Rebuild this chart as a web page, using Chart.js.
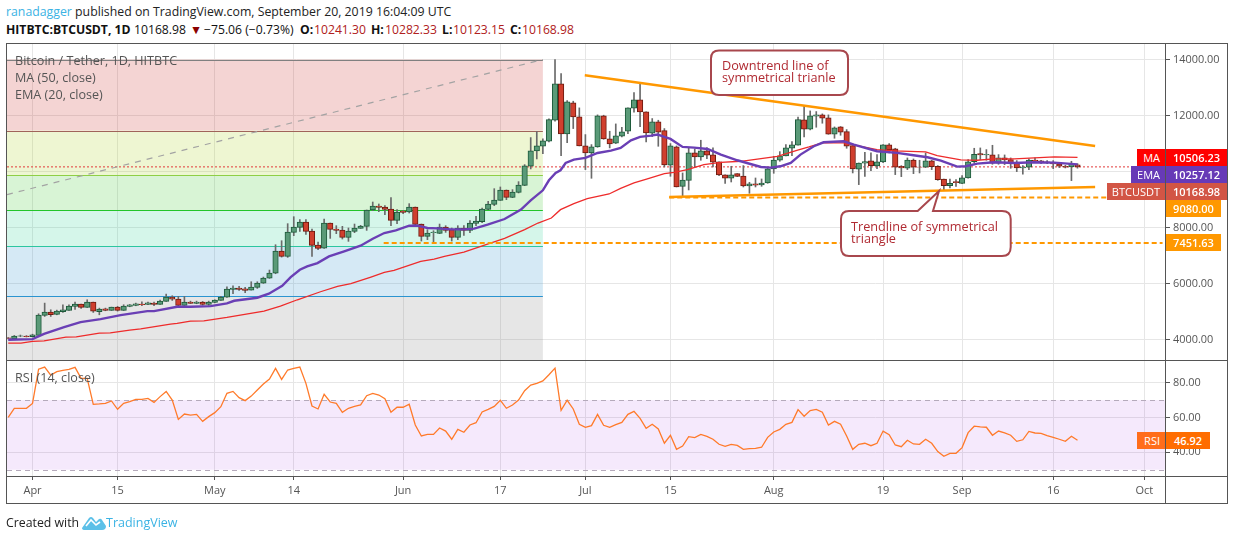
<!DOCTYPE html>
<html>
<head>
<meta charset="utf-8">
<title>BTCUSDT</title>
<script src="https://cdn.jsdelivr.net/npm/chart.js@4/dist/chart.umd.min.js"></script>
<style>
    html, body { margin: 0; padding: 0; background: #fff; }
    body { width: 1234px; height: 540px; position: relative; overflow: hidden; font-family: "Open Sans", sans-serif; }
    canvas { position: absolute; }
    .abs { position: absolute; white-space: nowrap; }
    .line { position: absolute; background: #555; }
    .legend { color: #555; font-size: 12.6px; line-height: 17px; left: 15px; }
    .hdr { position: absolute; top: 21px; font-size: 12.2px; line-height: 18px; color: #111; white-space: nowrap; }
    .hdr.v { color: #b02020; }
    .hdr.b { font-weight: 700; }
    .tag { position: absolute; color: #fff; font-size: 11px; font-weight: 600; line-height: 17px; height: 17px; text-align: center; }
    .tag.side { text-align: right; padding-right: 5px; font-weight: 400; box-sizing: border-box; }
    #overlay { position: absolute; left: 0; top: 0; }
    #overlay text { font-family: "Open Sans", sans-serif; font-size: 12.7px; fill: #b02a32; }
</style>
</head>
<body>

<div class="abs" style="left:6px;top:3px;font-size:12.3px;line-height:18px;color:#222"><span style="color:#3bb3e4">ranadagger</span> published on TradingView.com, September 20, 2019 16:04:09 UTC</div>
<div class="hdr b" style="left:6px;font-size:12.2px">HITBTC:BTCUSDT, 1D</div>
<div class="hdr" style="left:134px">10168.98</div>
<div class="hdr" style="left:190px;color:#8b0000">▼</div>
<div class="hdr" style="left:204px">−75.06 (−0.73%)</div>
<div class="hdr b" style="left:300px">O:</div>
<div class="hdr v" style="left:314px">10241.30</div>
<div class="hdr b" style="left:371px">H:</div>
<div class="hdr v" style="left:385px">10282.33</div>
<div class="hdr b" style="left:442px">L:</div>
<div class="hdr v" style="left:453px">10123.15</div>
<div class="hdr b" style="left:510px">C:</div>
<div class="hdr v" style="left:522px">10168.98</div>

<canvas id="chart-price" width="1220" height="316" style="left:7px;top:44px;width:1220px;height:316px"></canvas>
<canvas id="chart-rsi" width="1220" height="142" style="left:7px;top:361px;width:1220px;height:142px"></canvas>

<!-- pane frame -->
<div class="line" style="left:6px;top:43px;width:1222px;height:1px"></div>
<div class="line" style="left:6px;top:360px;width:1222px;height:1px"></div>
<div class="line" style="left:6px;top:476px;width:1222px;height:1px"></div>
<div class="line" style="left:6px;top:503px;width:1222px;height:1px"></div>
<div class="line" style="left:6px;top:43px;width:1px;height:461px"></div>
<div class="line" style="left:1165px;top:43px;width:1px;height:461px"></div>
<div class="line" style="left:1227px;top:43px;width:1px;height:461px"></div>

<div class="abs legend" style="top:52px">Bitcoin / Tether, 1D, HITBTC</div>
<div class="abs legend" style="top:69px">MA (50, close)</div>
<div class="abs legend" style="top:86px">EMA (20, close)</div>
<div class="abs legend" style="top:369px">RSI (14, close)</div>

<div class="tag side" style="left:1137px;top:149px;width:28px;background:#ff0000">MA</div>
<div class="tag" style="left:1166px;top:149px;width:61px;background:#ff0000">10506.23</div>
<div class="tag side" style="left:1131px;top:166px;width:34px;background:#673ab7">EMA</div>
<div class="tag" style="left:1166px;top:166px;width:61px;background:#673ab7">10257.12</div>
<div class="tag side" style="left:1107px;top:183px;width:58px;background:#d25545">BTCUSDT</div>
<div class="tag" style="left:1166px;top:183px;width:61px;background:#d25545">10168.98</div>
<div class="tag" style="left:1166px;top:200px;width:55px;background:#ff9800">9080.00</div>
<div class="tag" style="left:1166px;top:234px;width:55px;background:#ff9800">7451.63</div>
<div class="tag side" style="left:1137px;top:432px;width:28px;background:#ff6d1a">RSI</div>
<div class="tag" style="left:1166px;top:432px;width:44px;background:#ff6d00">46.92</div>

<svg id="overlay" width="1234" height="540">
    <path d="M719 50.5 H840 Q848 50.5 848 58.5 V87 Q848 95 840 95 H719 Q711 95 711 87 V58.5 Q711 50.5 719 50.5 Z" fill="#fff" stroke="#a8474d" stroke-width="2"/>
    <text x="722" y="69.5">Downtrend line of</text>
    <text x="722" y="82">symmetrical trianle</text>
    <path d="M849 211 H917.7 L939 191 L933 211 H1002 Q1010.7 211 1010.7 219 V247 Q1010.7 256 1002 256 H849 Q841 256 841 247 V219 Q841 211 849 211 Z" fill="#fff" stroke="#a8474d" stroke-width="2"/>
    <text x="851" y="231">Trendline of symmetrical</text>
    <text x="851" y="243">triangle</text>
</svg>

<div class="abs" style="left:6px;top:513px;font-size:12.3px;line-height:20px;color:#222">Created with</div>
<svg class="abs" style="left:82px;top:515px" width="24" height="15" viewBox="0 0 24 15">
    <path d="M0 13 L7 3 Q9 1 11 3 L14 7 L17 4 Q19 3 20 5 L24 11 Q24 15 20 15 H3 Q0 15 0 13 Z" fill="#5cc0e8"/>
    <path d="M4 11 L9 5 L14 10 L18 7" fill="none" stroke="#fff" stroke-width="1.6"/>
</svg>
<div class="abs" style="left:106px;top:513px;font-size:12.5px;line-height:20px;color:#3bb3e4">TradingView</div>

<script>
// all series are indexed by day, day 0 = Apr 1 2019
const firstDay = -4;

const tickDays = [0, 14, 30, 43, 61, 77, 91, 105, 122, 140, 153, 168, 183];
const tickLabels = ["Apr", "15", "May", "14", "Jun", "17", "Jul", "15", "Aug", "19", "Sep", "16", "Oct"];
const priceTicks = [4000, 6000, 8000, 10000, 12000, 14000];
const rsiTicks = [40, 60, 80];

const opens = [
    4070, 4035, 4130, 4135, 4115, 4155, 4870, 4988, 4904, 5000,
    5047, 5190, 5273, 5154, 5345, 5000, 5107, 5047, 5166, 5047,
    5190, 5226, 5273, 5261, 5309, 5261, 5368, 5523, 5452, 5226,
    5345, 5297, 5345, 5261, 5333, 5404, 5523, 5797, 5845, 5821,
    5773, 5868, 6023, 6202, 6380, 7166, 6976, 7833, 8011, 8202,
    7880, 7380, 7273, 8166, 7952, 7916, 7654, 7869, 7976, 8047,
    8630, 8773, 8738, 8666, 8262, 8595, 8559, 8738, 8130, 7690,
    7821, 7797, 8023, 7928, 7654, 7988, 7904, 8154, 8214, 8654,
    8833, 8976, 9345, 9083, 9261, 9511, 10190, 10738, 10904, 11083,
    11833, 13131, 11345, 12452, 11952, 10916, 10666, 10881, 11988, 11166,
    11012, 11262, 11440, 12262, 12559, 12131, 11369, 11773, 11464, 10226,
    10881, 9476, 9690, 10666, 10523, 10738, 10595, 10345, 9881, 9762,
    9928, 9845, 9488, 9560, 9524, 9595, 10095, 10404, 10559, 10833,
    10940, 11845, 11512, 11976, 12024, 11916, 11333, 11595, 11428, 10928,
    10083, 10297, 10381, 10202, 10345, 10952, 10809, 10190, 10119, 10416,
    10166, 10155, 10381, 10190, 9738, 9500, 9643, 9583, 9774, 10357,
    10643, 10595, 10595, 10297, 10488, 10428, 10297, 10131, 10155, 10416,
    10381, 10345, 10309, 10274, 10190, 10166, 10241.30
];
const highs = [
    4080, 4155, 4170, 4150, 4200, 4928, 5309, 5071, 5059, 5250,
    5250, 5345, 5273, 5428, 5345, 5130, 5130, 5166, 5190, 5250,
    5260, 5309, 5357, 5345, 5345, 5416, 5630, 5571, 5547, 5547,
    5380, 5380, 5368, 5380, 5428, 5547, 5892, 5928, 5904, 5868,
    6071, 6071, 6238, 6488, 7392, 7535, 8143, 8392, 8285, 8285,
    7952, 7488, 8309, 8166, 8071, 8047, 7988, 8130, 8083, 8630,
    8916, 8845, 8785, 9071, 8642, 8619, 8857, 8738, 8130, 7928,
    7892, 8130, 8071, 7988, 8071, 8071, 8250, 8404, 8702, 8940,
    9392, 9452, 9345, 9357, 9642, 10250, 11214, 11428, 11166, 11880,
    14000, 13500, 12535, 12512, 12274, 11321, 10964, 12024, 12012, 11440,
    11702, 11583, 12274, 12821, 13166, 12131, 11893, 11833, 11536, 11000,
    10916, 9952, 10833, 10809, 11119, 10857, 10845, 10345, 9881, 10190,
    9928, 10214, 9619, 9773, 9738, 10131, 10547, 10714, 10964, 11071,
    11950, 12357, 12166, 12143, 12060, 12024, 11595, 11607, 11500, 10928,
    10309, 10690, 10666, 10607, 10964, 11000, 10833, 10214, 10488, 10452,
    10405, 10666, 10405, 10214, 9738, 9738, 9714, 9857, 10428, 10833,
    10845, 10786, 10940, 10607, 10595, 10488, 10393, 10214, 10452, 10488,
    10405, 10393, 10393, 10310, 10226, 10369, 10282.33
];
const lows = [
    4040, 4025, 4110, 4100, 4100, 4150, 4833, 4833, 4892, 4976,
    5047, 5083, 5118, 5154, 4976, 4892, 5035, 5047, 5023, 5047,
    5178, 5214, 5214, 5250, 5214, 5261, 5368, 5404, 5214, 5226,
    5297, 5285, 5238, 5226, 5321, 5404, 5511, 5642, 5761, 5678,
    5773, 5833, 6011, 6190, 6357, 6950, 6940, 7714, 7868, 7761,
    6976, 7214, 7261, 7618, 7785, 7595, 7512, 7821, 7976, 7904,
    8607, 8571, 8464, 8071, 8143, 8500, 8523, 8107, 7523, 7571,
    7500, 7785, 7833, 7523, 7571, 7726, 7821, 8071, 8178, 8643,
    8785, 8976, 9000, 9071, 9238, 9500, 10095, 10452, 10643, 11060,
    11798, 10571, 11035, 11536, 10916, 10071, 9762, 10869, 11154, 10845,
    11000, 11238, 11357, 12119, 11607, 11059, 11250, 10904, 10166, 9833,
    9452, 9119, 9345, 10166, 10405, 10464, 10166, 9857, 9583, 9630,
    9821, 9452, 9226, 9452, 9476, 9583, 9940, 10369, 10559, 10571,
    10940, 11238, 11488, 11583, 11726, 11333, 11190, 11297, 10833, 9952,
    9536, 9833, 10035, 10107, 10321, 10667, 9893, 9821, 10071, 9928,
    9952, 10143, 10071, 9690, 9357, 9416, 9476, 9571, 9762, 10309,
    10429, 10405, 10262, 10262, 10250, 10119, 10000, 9905, 10071, 10357,
    10285, 10285, 10107, 10143, 10131, 9678, 10123.15
];
const closes = [
    4050, 4130, 4140, 4115, 4175, 4880, 4988, 4892, 5023, 5071,
    5202, 5273, 5154, 5345, 5023, 5095, 5047, 5166, 5047, 5202,
    5250, 5285, 5250, 5321, 5261, 5380, 5523, 5452, 5226, 5345,
    5297, 5345, 5261, 5345, 5416, 5523, 5809, 5845, 5797, 5761,
    5880, 6023, 6202, 6380, 7166, 6976, 7845, 8023, 8202, 7868,
    7368, 7261, 8166, 7940, 7904, 7654, 7880, 7988, 8059, 8630,
    8773, 8726, 8654, 8262, 8559, 8547, 8738, 8119, 7690, 7809,
    7845, 8023, 7904, 7654, 7988, 7904, 8166, 8238, 8666, 8845,
    8988, 9345, 9083, 9273, 9523, 10202, 10738, 10916, 11095, 11857,
    13131, 11345, 12488, 11952, 10916, 10666, 10881, 11988, 11166, 10988,
    11274, 11416, 12274, 12559, 12131, 11381, 11773, 11405, 10238, 10916,
    9452, 9702, 10666, 10523, 10738, 10583, 10333, 9881, 9762, 9881,
    9833, 9488, 9560, 9512, 9595, 10095, 10416, 10559, 10845, 10952,
    11857, 11512, 11988, 12024, 11905, 11333, 11559, 11405, 10905, 10095,
    10309, 10357, 10214, 10345, 10952, 10774, 10155, 10131, 10416, 10155,
    10155, 10381, 10178, 9714, 9500, 9583, 9607, 9774, 10345, 10619,
    10595, 10619, 10297, 10488, 10416, 10297, 10131, 10166, 10416, 10381,
    10333, 10309, 10274, 10190, 10155, 10274, 10168.98
];

const rsiValues = [
    60.1, 65.3, 65.3, 65.3, 68.1, 87.8, 89, 84.4, 86.3, 87.1,
    87.7, 88.8, 82.5, 82.5, 67.6, 67.8, 68.1, 69.5, 64.7, 68.1,
    69.1, 70.4, 70.4, 71, 68.7, 72, 75, 70, 58.9, 62,
    61.4, 61.8, 57.8, 60.5, 62.8, 66.2, 73.9, 75, 71.4, 69.7,
    72.3, 75.8, 79.2, 82.1, 88.2, 81.9, 87.3, 88.2, 89, 79.6,
    66.6, 64.9, 73.3, 68.9, 68.1, 63, 65.3, 66.4, 67.2, 72.5,
    73.9, 72.9, 70.8, 63, 65.9, 65.9, 67.6, 55.7, 49.4, 50.3,
    50.3, 54, 52.2, 47.5, 53.2, 51.5, 55.7, 57, 63.2, 64.7,
    66.4, 69.9, 65.3, 67.2, 70, 75.4, 78.6, 79.6, 81, 84.6,
    88.4, 64.1, 69.9, 64.9, 56.1, 54.3, 55.3, 61.8, 55.5, 54.3,
    55.9, 57.2, 61.8, 63.5, 59.5, 53.8, 56.1, 53.4, 45.2, 49.8,
    41.7, 43.6, 49, 48.4, 50.3, 49.2, 47.5, 44.6, 43.4, 44.6,
    44, 41.7, 42.1, 42.3, 42.9, 48.6, 51.7, 53.2, 56.1, 57.2,
    64.5, 60.7, 64, 64.7, 63, 55.7, 57.8, 56.1, 49.4, 41.7,
    44.6, 45.2, 43.8, 45.2, 52.2, 50.1, 44.2, 43.2, 46.9, 44.8,
    44.6, 47.5, 45.2, 40.4, 37.7, 39.4, 39.4, 42.7, 51.3, 55,
    54.6, 54.4, 49.8, 52.2, 51.1, 49.8, 46.3, 47.2, 52, 51.1,
    50.9, 49.6, 48.6, 47.5, 46.3, 49.2, 46.92
];

// moving averages read at their turning points
const emaDays = [-4, 0, 1.9, 5.2, 7.9, 11.2, 14.5, 18.9, 20, 23.8, 26, 29.3, 32, 33.2, 37, 38.9, 41.1, 42.5, 44, 45.2, 46.9, 48.8, 51.3, 54, 56, 57.9, 59.8, 62, 63.4, 65, 66.7, 68.9, 71, 72.7, 74.9, 77.7, 80.4, 82, 84, 85, 86.1, 86.9, 87.75, 89.1, 91, 93, 95.2, 96.8, 98.5, 100, 101.8, 102.9, 104, 105, 107, 108.9, 111.1, 113.3, 116, 119.9, 121.5, 123.1, 124.8, 126.4, 128.6, 130.2, 133.5, 135.2, 139, 142.3, 145, 147.3, 149.5, 152.2, 153.6, 155.5, 158.3, 161.6, 164.9, 168.2, 172];
const emaValues = [4000, 4024, 4214, 4452, 4631, 4738, 4881, 5024, 5024, 5178, 5178, 5202, 5297, 5392, 5500, 5643, 5928, 6238, 6500, 6619, 6738, 6976, 7155, 7357, 7607, 7809, 7905, 8071, 8071, 7988, 7976, 7940, 7940, 7964, 8107, 8309, 8643, 8976, 9333, 9690, 9952, 10047, 10309, 10428, 10488, 10666, 10750, 10845, 11119, 11238, 11286, 11321, 11238, 11167, 10881, 10857, 10809, 10607, 10405, 10166, 10143, 10190, 10310, 10607, 10905, 11047, 11083, 10964, 10726, 10667, 10583, 10512, 10393, 10178, 10190, 10286, 10333, 10310, 10333, 10321, 10257.12];
const maDays = [-4, -1.9, 0, 1.9, 5.5, 7.2, 11, 12.8, 16, 17.8, 22.7, 23.8, 26, 28.2, 32, 38.1, 40.8, 43.6, 47.4, 50.2, 52.4, 55.7, 57.9, 59.5, 63.9, 66.1, 67.8, 71, 74.4, 77.7, 81, 83.2, 85.4, 86.9, 89.1, 91.3, 94.9, 96.8, 99, 101.2, 104, 105.6, 107.8, 110.5, 113.3, 116.6, 119.9, 122.6, 125.8, 127.8, 130, 133.5, 134.9, 139, 141.8, 147, 148.9, 152.8, 155.5, 158.3, 161.6, 164.9, 168.2, 172];
const maValues = [3881, 3881, 3940, 3964, 4095, 4107, 4238, 4250, 4345, 4393, 4560, 4583, 4667, 4678, 4797, 5024, 5202, 5428, 5714, 5905, 6000, 6238, 6405, 6476, 6797, 6880, 6976, 7131, 7381, 7619, 7928, 8166, 8345, 8643, 8857, 9035, 9202, 9405, 9595, 9738, 9928, 9976, 10071, 10250, 10333, 10369, 10464, 10547, 10762, 10881, 11024, 11024, 10964, 10786, 10738, 10702, 10571, 10416, 10405, 10452, 10452, 10488, 10524, 10506.23];

// fib retracement: price levels and the band below each one
const fibLevels = [14000, 11464, 9882, 8618, 7346, 5561];
const fibLineColors = ["#808080", "#a0645a", "#8fcf45", "#22c52a", "#2cc6a0", "#2a94d0"];
const fibBandColors = ["rgba(200,40,35,0.2)", "rgba(170,210,30,0.2)", "rgba(60,200,45,0.2)", "rgba(45,210,150,0.2)", "rgba(45,145,205,0.2)", "rgba(128,128,128,0.2)"];
const fibEndDay = 84;
const fibDiagonalDays = [-4.2, 84];
const fibDiagonalPrices = [9179, 14000];

const downtrendDays = [90.9, 174.9];
const downtrendPrices = [13436, 10914];
const uptrendDays = [104.8, 174.9];
const uptrendPrices = [9095, 9451];
const support9080Days = [104.8, 186.4];
const support9080Prices = [9080, 9080];
const support7451Days = [57.8, 186];
const support7451Prices = [7451.63, 7451.63];
const lastPriceDays = [-4.2, 186.4];
const lastPrices = [10168.98, 10168.98];

const rsiBandTop = 70;
const rsiBandBottom = 30;

const GREEN = "#5a9a78", GREEN_DARK = "#1d5a3a";
const RED = "#d03f2e", RED_DARK = "#6e1b10";
const GRID = "#e6e6e6", AXIS_TEXT = "#555";

function points(days, values) {
    return days.map((d, i) => ({ x: d, y: values[i] }));
}

function isUp(i) {
    return closes[i] >= opens[i];
}

// the panes have fixed boxes, so drop the margin chart.js keeps for edge labels
function dropMargins(s) {
    s.paddingTop = 0;
    s.paddingBottom = 0;
    s.paddingLeft = 0;
    s.paddingRight = 0;
}

function timeScale(showLabels) {
    return {
        type: "linear",
        offset: false,
        min: -4.2,
        max: 186.4,
        afterBuildTicks: s => { s.ticks = tickDays.map(v => ({ value: v })); },
        afterFit: s => { s.height = showLabels ? 27 : 0; dropMargins(s); },
        border: { display: false },
        grid: { offset: false, color: GRID, drawTicks: showLabels, tickColor: "#555", tickLength: 4 },
        ticks: {
            display: showLabels,
            autoSkip: false,
            maxRotation: 0,
            padding: 4,
            color: AXIS_TEXT,
            font: { family: "Open Sans", size: 11 },
            callback: v => tickLabels[tickDays.indexOf(v)]
        }
    };
}

function valueScale(min, max, tickValues) {
    return {
        type: "linear",
        position: "right",
        min: min,
        max: max,
        afterBuildTicks: s => { s.ticks = tickValues.map(v => ({ value: v })); },
        afterFit: s => { s.width = 62; dropMargins(s); },
        border: { display: false },
        grid: { color: GRID, tickColor: "#555", tickLength: 5 },
        ticks: {
            padding: 3,
            color: AXIS_TEXT,
            font: { family: "Open Sans", size: 10.9 },
            callback: v => v.toFixed(2)
        }
    };
}

const fibPlugin = {
    id: "fibBands",
    beforeDatasetsDraw(chart) {
        const { ctx, chartArea, scales } = chart;
        const right = scales.x.getPixelForValue(fibEndDay);
        fibLevels.forEach((level, i) => {
            const top = scales.y.getPixelForValue(level);
            const next = i + 1 < fibLevels.length ? scales.y.getPixelForValue(fibLevels[i + 1]) : chartArea.bottom;
            ctx.fillStyle = fibBandColors[i];
            ctx.fillRect(chartArea.left, top, right - chartArea.left, next - top);
            ctx.fillStyle = fibLineColors[i];
            ctx.fillRect(chartArea.left, Math.round(top), right - chartArea.left, 1);
        });
    }
};

const rsiBandPlugin = {
    id: "rsiBand",
    beforeDatasetsDraw(chart) {
        const { ctx, chartArea, scales } = chart;
        const top = scales.y.getPixelForValue(rsiBandTop);
        const bottom = scales.y.getPixelForValue(rsiBandBottom);
        ctx.save();
        ctx.fillStyle = "rgba(155,39,230,0.1)";
        ctx.fillRect(chartArea.left, top, chartArea.width, bottom - top);
        ctx.strokeStyle = "#b5aabb";
        ctx.setLineDash([5, 4]);
        [top, bottom].forEach(y => {
            ctx.beginPath();
            ctx.moveTo(chartArea.left, Math.round(y) + 0.5);
            ctx.lineTo(chartArea.right, Math.round(y) + 0.5);
            ctx.stroke();
        });
        ctx.restore();
    }
};

function lineSet(days, values, color, width, order, dash) {
    return {
        type: "line",
        data: points(days, values),
        borderColor: color,
        borderWidth: width,
        borderDash: dash || [],
        pointRadius: 0,
        tension: 0,
        order: order
    };
}

const allDays = opens.map((_, i) => firstDay + i);

new Chart(document.getElementById("chart-price"), {
    type: "bar",
    data: {
        datasets: [
            lineSet(lastPriceDays, lastPrices, "#e23a3a", 1, 9, [2, 2]),
            lineSet(fibDiagonalDays, fibDiagonalPrices, "#a3a3a3", 1.2, 8, [6, 6]),
            {
                // wicks
                data: allDays.map((d, i) => ({ x: d, y: [lows[i], highs[i]] })),
                backgroundColor: "#6a6a6a",
                borderWidth: 0,
                barThickness: 1,
                grouped: false,
                order: 6
            },
            {
                // bodies
                data: allDays.map((d, i) => ({ x: d, y: [opens[i], closes[i]] })),
                backgroundColor: opens.map((_, i) => isUp(i) ? GREEN : RED),
                borderColor: opens.map((_, i) => isUp(i) ? GREEN_DARK : RED_DARK),
                borderWidth: 1,
                borderSkipped: false,
                barThickness: 5.5,
                grouped: false,
                order: 5
            },
            lineSet(maDays, maValues, "#ee2b2b", 1.3, 4),
            lineSet(emaDays, emaValues, "#6a3fb5", 2.4, 3),
            lineSet(support9080Days, support9080Prices, "#ff9800", 2, 2, [5, 3]),
            lineSet(support7451Days, support7451Prices, "#ff9800", 2, 2, [5, 3]),
            lineSet(downtrendDays, downtrendPrices, "#ff9800", 2.5, 1),
            lineSet(uptrendDays, uptrendPrices, "#ff9800", 2.5, 1)
        ]
    },
    options: {
        responsive: false,
        animation: false,
        devicePixelRatio: 1,
        layout: { padding: 0 },
        plugins: { legend: { display: false }, tooltip: { enabled: false } },
        scales: {
            x: timeScale(false),
            y: valueScale(3279, 14553, priceTicks)
        }
    },
    plugins: [fibPlugin]
});

new Chart(document.getElementById("chart-rsi"), {
    type: "line",
    data: {
        datasets: [{
            data: points(allDays, rsiValues),
            borderColor: "#ff7a2a",
            borderWidth: 1.3,
            pointRadius: 0,
            tension: 0
        }]
    },
    options: {
        responsive: false,
        animation: false,
        devicePixelRatio: 1,
        layout: { padding: 0 },
        plugins: { legend: { display: false }, tooltip: { enabled: false } },
        scales: {
            x: timeScale(true),
            y: valueScale(26.38, 92.47, rsiTicks)
        }
    },
    plugins: [rsiBandPlugin]
});
</script>
</body>
</html>
